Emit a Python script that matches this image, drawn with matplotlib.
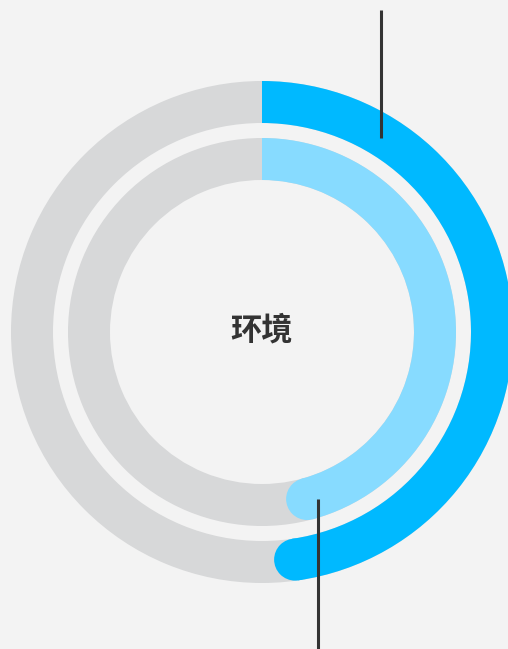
import matplotlib.pyplot as plt
from matplotlib.patches import Wedge, Circle
import numpy as np

plt.rcParams['font.family'] = ['Noto Sans CJK SC', 'DejaVu Sans']

# Ring data (share of full circle, %)
labels = ['outer', 'inner']
values = [47.7, 45.8]
colors = ['#00b9ff', '#87dbff']
center_label = '环境'

bg = '#f3f3f3'
track = '#d7d8d9'

fig = plt.figure(figsize=(5.08, 6.49), dpi=100)
fig.patch.set_facecolor(bg)
ax = fig.add_axes([0, 0, 1, 1])
ax.set_facecolor(bg)
ax.set_xlim(0, 508)
ax.set_ylim(649, 0)
ax.set_aspect('equal')
ax.axis('off')

cx, cy = 262, 332
radii = [251, 194]
width = 42

for r, v, c in zip(radii, values, colors):
    # grey track
    ax.add_patch(Wedge((cx, cy), r, 0, 360, width=width, facecolor=track, edgecolor='none'))
    # value arc, starting at 12 o'clock, going clockwise (y axis is inverted)
    t2 = -90 + 360 * v / 100
    ax.add_patch(Wedge((cx, cy), r, -90, t2, width=width, facecolor=c, edgecolor='none'))
    # rounded end cap
    rm = r - width / 2
    a = np.radians(t2)
    ax.add_patch(Circle((cx + rm * np.cos(a), cy + rm * np.sin(a)), width / 2,
                        facecolor=c, edgecolor='none'))

# leader lines
ax.plot([381, 381], [10, 138], color='#333333', lw=2.2, solid_capstyle='butt')
ax.plot([318, 318], [499, 649], color='#333333', lw=2.2, solid_capstyle='butt')

ax.text(cx, cy - 2, center_label, ha='center', va='center', fontsize=22.5,
        fontweight='bold', color='#333333')

fig.savefig('out.png', dpi=100, facecolor=bg)
